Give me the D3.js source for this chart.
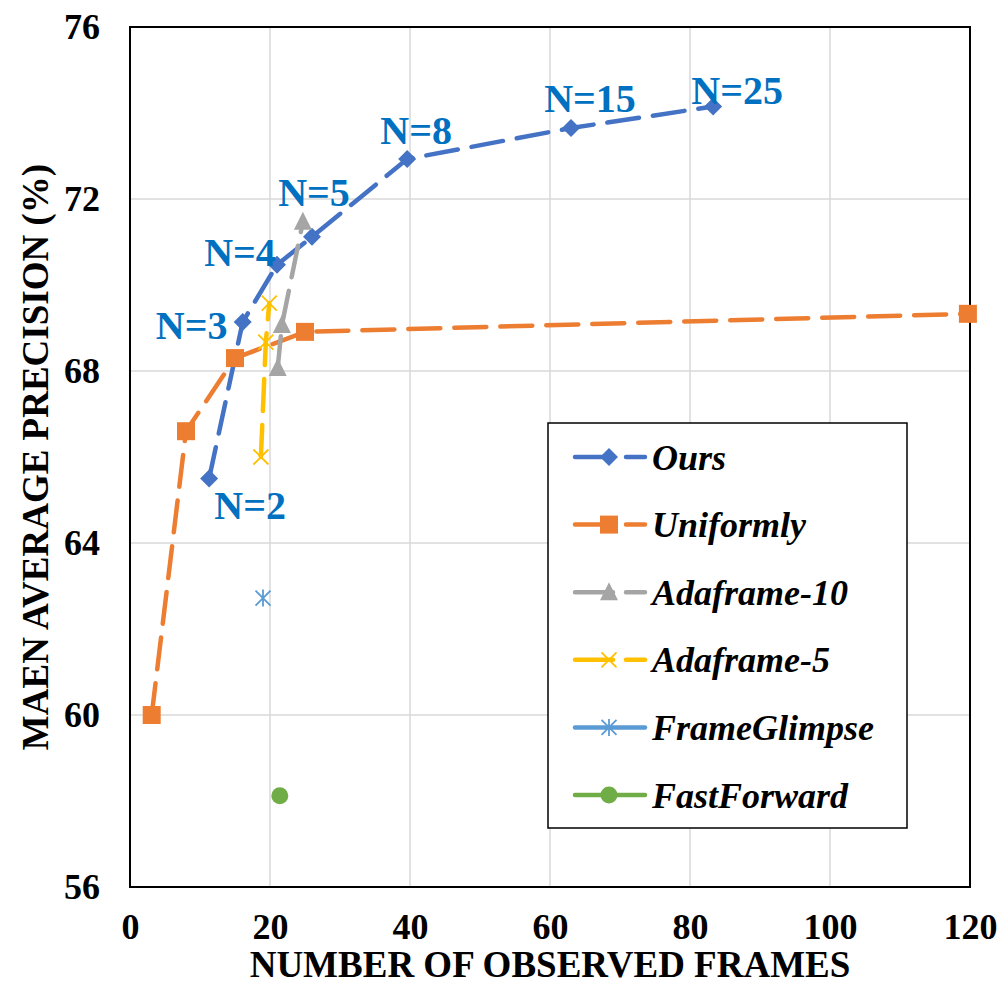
<!DOCTYPE html>
<html>
<head>
<meta charset="utf-8">
<script src="https://cdn.jsdelivr.net/npm/d3@7"></script>
<style>
  html, body { margin: 0; padding: 0; background: #fff; }
  svg { display: block; }
  svg text { font-family: "Liberation Serif", "Times New Roman", Times, serif !important; font-weight: bold; }
</style>
</head>
<body>
<svg id="chart" width="1005" height="994"></svg>
<script>
// ---------------- data ----------------
const xTicks = [0, 20, 40, 60, 80, 100, 120];
const yTicks = [56, 60, 64, 68, 72, 76];

const oursX = [11.3, 16.1, 21.0, 26.0, 39.6, 63.0, 83.3];
const oursY = [65.5, 69.14, 70.47, 71.12, 72.93, 73.65, 74.15];
const oursLabels = ["N=2", "N=3", "N=4", "N=5", "N=8", "N=15", "N=25"];

const uniformX = [3.1, 8.0, 15.0, 25.0, 119.7];
const uniformY = [60.0, 66.6, 68.3, 68.91, 69.33];

const ada10X = [21.1, 21.7, 24.7];
const ada10Y = [68.07, 69.07, 71.47];

const ada5X = [18.7, 19.4, 19.9];
const ada5Y = [66.0, 68.67, 69.58];

const glimpseX = [19.0];
const glimpseY = [62.72];

const fastX = [21.4];
const fastY = [58.12];

const seriesNames = ["Ours", "Uniformly", "Adaframe-10", "Adaframe-5", "FrameGlimpse", "FastForward"];

// ---------------- layout / style ----------------
const FONT = '"Liberation Serif", "Times New Roman", Times, serif';
const svg = d3.select("#chart");
const L = 130, R = 970, T = 27, B = 887;
const x = d3.scaleLinear().domain([0, 120]).range([L, R]);
const y = d3.scaleLinear().domain([56, 76]).range([B, T]);

const colors = {
  "Ours": "#4472C4", "Uniformly": "#ED7D31", "Adaframe-10": "#A5A5A5",
  "Adaframe-5": "#FFC000", "FrameGlimpse": "#5B9BD5", "FastForward": "#70AD47"
};
const markers = {
  "Ours": "diamond", "Uniformly": "square", "Adaframe-10": "triangle",
  "Adaframe-5": "x", "FrameGlimpse": "asterisk", "FastForward": "circle"
};
const series = [
  { name: "Ours", xs: oursX, ys: oursY, dashed: true },
  { name: "Uniformly", xs: uniformX, ys: uniformY, dashed: true },
  { name: "Adaframe-10", xs: ada10X, ys: ada10Y, dashed: true },
  { name: "Adaframe-5", xs: ada5X, ys: ada5Y, dashed: true },
  { name: "FrameGlimpse", xs: glimpseX, ys: glimpseY, dashed: false },
  { name: "FastForward", xs: fastX, ys: fastY, dashed: false }
];
const dash = "32,14";
const lw = 4.5;

// gridlines
const grid = svg.append("g");
grid.selectAll(".gx").data(xTicks.filter(d => d > 0 && d < 120)).join("line")
  .attr("x1", d => x(d)).attr("x2", d => x(d)).attr("y1", T).attr("y2", B)
  .attr("stroke", "#D9D9D9").attr("stroke-width", 1.5);
grid.selectAll(".gy").data(yTicks.filter(d => d > 56 && d < 76)).join("line")
  .attr("y1", d => y(d)).attr("y2", d => y(d)).attr("x1", L).attr("x2", R)
  .attr("stroke", "#D9D9D9").attr("stroke-width", 1.5);

// axes (labels only) using d3 axes
const xAxis = svg.append("g").attr("transform", `translate(0,${B})`)
  .call(d3.axisBottom(x).tickValues(xTicks).tickSize(0).tickPadding(26).tickFormat(d3.format("d")));
xAxis.attr("font-family", FONT);
xAxis.select(".domain").remove();
xAxis.selectAll("text").attr("font-size", 36).attr("fill", "#000");

const yAxis = svg.append("g").attr("transform", `translate(${L},0)`)
  .call(d3.axisLeft(y).tickValues(yTicks).tickSize(0).tickPadding(30).tickFormat(d3.format("d")));
yAxis.attr("font-family", FONT);
yAxis.select(".domain").remove();
yAxis.selectAll("text").attr("font-size", 36).attr("fill", "#000");

// plot border
svg.append("rect").attr("x", L).attr("y", T).attr("width", R - L).attr("height", B - T)
  .attr("fill", "none").attr("stroke", "#000").attr("stroke-width", 2);

// axis titles
svg.append("text").attr("x", (L + R) / 2 - 0).attr("y", 977).attr("text-anchor", "middle")
  .attr("font-size", 37).attr("fill", "#000").text("NUMBER OF OBSERVED FRAMES");
svg.append("text").attr("transform", `translate(48,${(T + B) / 2}) rotate(-90)`)
  .attr("text-anchor", "middle").attr("font-size", 37).attr("fill", "#000")
  .text("MAEN AVERAGE PRECISION (%)");

// marker drawing
function drawMarker(g, type, cx, cy, color) {
  if (type === "diamond") {
    const s = 9;
    g.append("path").attr("d", `M${cx},${cy - s}L${cx + s},${cy}L${cx},${cy + s}L${cx - s},${cy}Z`).attr("fill", color);
  } else if (type === "square") {
    const s = 9;
    g.append("rect").attr("x", cx - s).attr("y", cy - s).attr("width", 2 * s).attr("height", 2 * s).attr("fill", color);
  } else if (type === "triangle") {
    const s = 9;
    g.append("path").attr("d", `M${cx},${cy - s - 1}L${cx + s},${cy + s - 1}L${cx - s},${cy + s - 1}Z`).attr("fill", color);
  } else if (type === "x") {
    const s = 7.5;
    g.append("path").attr("d", `M${cx - s},${cy - s}L${cx + s},${cy + s}M${cx - s},${cy + s}L${cx + s},${cy - s}`)
      .attr("stroke", color).attr("stroke-width", 1.8).attr("fill", "none");
  } else if (type === "asterisk") {
    const s = 7.5;
    g.append("path").attr("d", `M${cx - s},${cy - s}L${cx + s},${cy + s}M${cx - s},${cy + s}L${cx + s},${cy - s}M${cx},${cy - s - 1}L${cx},${cy + s + 1}`)
      .attr("stroke", color).attr("stroke-width", 1.8).attr("fill", "none");
  } else if (type === "circle") {
    g.append("circle").attr("cx", cx).attr("cy", cy).attr("r", 8.5).attr("fill", color);
  }
}

// series lines + markers
const line = d3.line().x(d => x(d[0])).y(d => y(d[1]));
const plot = svg.append("g");
series.forEach(s => {
  const pts = s.xs.map((v, i) => [v, s.ys[i]]);
  if (pts.length > 1) {
    plot.append("path").attr("d", line(pts)).attr("fill", "none")
      .attr("stroke", colors[s.name]).attr("stroke-width", lw)
      .attr("stroke-linecap", "round").attr("stroke-linejoin", "round")
      .attr("stroke-dasharray", s.dashed ? dash : null);
  }
});
series.forEach(s => {
  s.xs.forEach((v, i) => drawMarker(plot, markers[s.name], x(v), y(s.ys[i]), colors[s.name]));
});

// data labels for Ours
const labelOffsets = [[41, 26], [-51, 3], [-37, -13], [2, -45], [9, -29], [19, -30], [24, -17]];
svg.append("g").selectAll("text").data(oursLabels).join("text")
  .attr("x", (d, i) => x(oursX[i]) + labelOffsets[i][0])
  .attr("y", (d, i) => y(oursY[i]) + labelOffsets[i][1])
  .attr("dy", "0.35em").attr("text-anchor", "middle")
  .attr("font-size", 40).attr("fill", "#0070C0").text(d => d);

// legend
const lg = svg.append("g");
lg.append("rect").attr("x", 548).attr("y", 423).attr("width", 359).attr("height", 405)
  .attr("fill", "#fff").attr("stroke", "#000").attr("stroke-width", 1.5);
seriesNames.forEach((name, i) => {
  const ly = 457 + i * 67.6;
  const s = series.find(d => d.name === name);
  lg.append("line").attr("x1", 575).attr("x2", 645).attr("y1", ly).attr("y2", ly)
    .attr("stroke", colors[name]).attr("stroke-width", lw).attr("stroke-linecap", "round")
    .attr("stroke-dasharray", s.dashed ? "38,13" : null);
  drawMarker(lg, markers[name], 609, ly, colors[name]);
  lg.append("text").attr("x", 652).attr("y", ly).attr("dy", "0.35em")
    .attr("font-size", 36).attr("font-style", "italic").attr("fill", "#000").text(name);
});
</script>
</body>
</html>
